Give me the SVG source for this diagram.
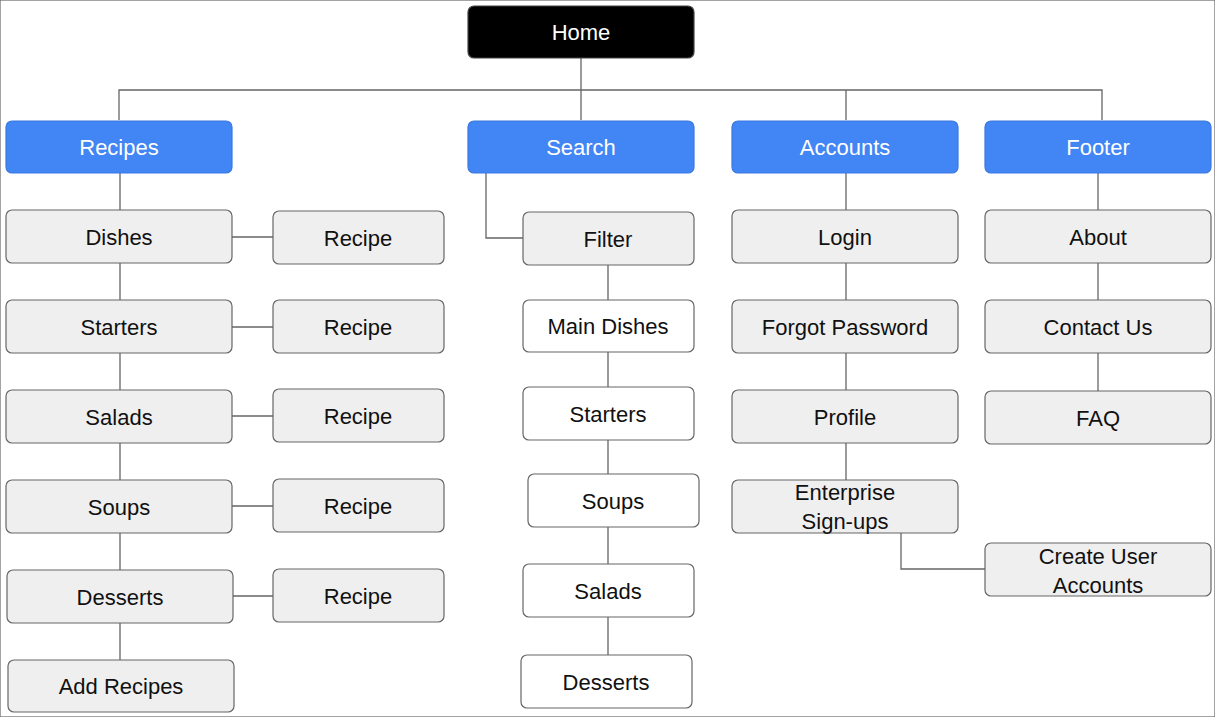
<svg xmlns="http://www.w3.org/2000/svg" width="1215" height="717" viewBox="0 0 1215 717">
<style>
rect{stroke:#666;stroke-width:1.2}
.g{fill:#efefef}.w{fill:#fff}.b{fill:#4285f4;stroke:#3b78e0}.k{fill:#000;stroke:#444}
text{font-family:"Liberation Sans",Arial,sans-serif;font-size:22px;text-anchor:middle;fill:#111}
.wt{fill:#fff}
#c path{fill:none;stroke:#666;stroke-width:1.3}
</style>
<rect width="1215" height="717" fill="#fff" stroke="none"/>
<g id="c">
<path d="M581 58V90M119 120V90H1102V120M581 90V120M846 90V120"/>
<path d="M120 173V660M232 237H273M232 327H273M232 416H273M232 506H273M233 596H273"/>
<path d="M486 173V238H523M608 265V655"/>
<path d="M846 173V480M901 533V569H985"/>
<path d="M1098 173V391"/>
</g>
<g id="home"><rect class="k" x="468" y="6" width="226" height="52" rx="6"/><text class="wt" x="581" y="40">Home</text></g>
<g id="recipes"><rect class="b" x="6" y="121" width="226" height="52" rx="6"/><text class="wt" x="119" y="155">Recipes</text></g>
<g id="search"><rect class="b" x="468" y="121" width="226" height="52" rx="6"/><text class="wt" x="581" y="155">Search</text></g>
<g id="accounts"><rect class="b" x="732" y="121" width="226" height="52" rx="6"/><text class="wt" x="845" y="155">Accounts</text></g>
<g id="footer"><rect class="b" x="985" y="121" width="226" height="52" rx="6"/><text class="wt" x="1098" y="155">Footer</text></g>

<g id="dishes"><rect class="g" x="6" y="210" width="226" height="53" rx="6"/><text x="119" y="245">Dishes</text></g>
<g id="starters"><rect class="g" x="6" y="300" width="226" height="53" rx="6"/><text x="119" y="335">Starters</text></g>
<g id="salads"><rect class="g" x="6" y="390" width="226" height="53" rx="6"/><text x="119" y="425">Salads</text></g>
<g id="soups"><rect class="g" x="6" y="480" width="226" height="53" rx="6"/><text x="119" y="515">Soups</text></g>
<g id="desserts"><rect class="g" x="7" y="570" width="226" height="53" rx="6"/><text x="120" y="605">Desserts</text></g>
<g id="addrecipes"><rect class="g" x="8" y="660" width="226" height="52" rx="6"/><text x="121" y="694">Add Recipes</text></g>

<g id="recipe1"><rect class="g" x="273" y="211" width="171" height="53" rx="6"/><text x="358" y="246">Recipe</text></g>
<g id="recipe2"><rect class="g" x="273" y="300" width="171" height="53" rx="6"/><text x="358" y="335">Recipe</text></g>
<g id="recipe3"><rect class="g" x="273" y="389" width="171" height="53" rx="6"/><text x="358" y="424">Recipe</text></g>
<g id="recipe4"><rect class="g" x="273" y="479" width="171" height="53" rx="6"/><text x="358" y="514">Recipe</text></g>
<g id="recipe5"><rect class="g" x="273" y="569" width="171" height="53" rx="6"/><text x="358" y="604">Recipe</text></g>

<g id="filter"><rect class="g" x="523" y="212" width="171" height="53" rx="6"/><text x="608" y="247">Filter</text></g>
<g id="s-main"><rect class="w" x="523" y="300" width="171" height="52" rx="6"/><text x="608" y="334">Main Dishes</text></g>
<g id="s-starters"><rect class="w" x="523" y="387" width="171" height="53" rx="6"/><text x="608" y="422">Starters</text></g>
<g id="s-soups"><rect class="w" x="528" y="474" width="171" height="53" rx="6"/><text x="613" y="509">Soups</text></g>
<g id="s-salads"><rect class="w" x="523" y="564" width="171" height="53" rx="6"/><text x="608" y="599">Salads</text></g>
<g id="s-desserts"><rect class="w" x="521" y="655" width="171" height="53" rx="6"/><text x="606" y="690">Desserts</text></g>

<g id="login"><rect class="g" x="732" y="210" width="226" height="53" rx="6"/><text x="845" y="245">Login</text></g>
<g id="forgot"><rect class="g" x="732" y="300" width="226" height="53" rx="6"/><text x="845" y="335">Forgot Password</text></g>
<g id="profile"><rect class="g" x="732" y="390" width="226" height="53" rx="6"/><text x="845" y="425">Profile</text></g>
<g id="enterprise"><rect class="g" x="732" y="480" width="226" height="53" rx="6"/><text x="845" y="500">Enterprise</text><text x="845" y="529">Sign-ups</text></g>
<g id="createuser"><rect class="g" x="985" y="543" width="226" height="53" rx="6"/><text x="1098" y="564">Create User</text><text x="1098" y="593">Accounts</text></g>

<g id="about"><rect class="g" x="985" y="210" width="226" height="53" rx="6"/><text x="1098" y="245">About</text></g>
<g id="contact"><rect class="g" x="985" y="300" width="226" height="53" rx="6"/><text x="1098" y="335">Contact Us</text></g>
<g id="faq"><rect class="g" x="985" y="391" width="226" height="53" rx="6"/><text x="1098" y="426">FAQ</text></g>
</svg>
